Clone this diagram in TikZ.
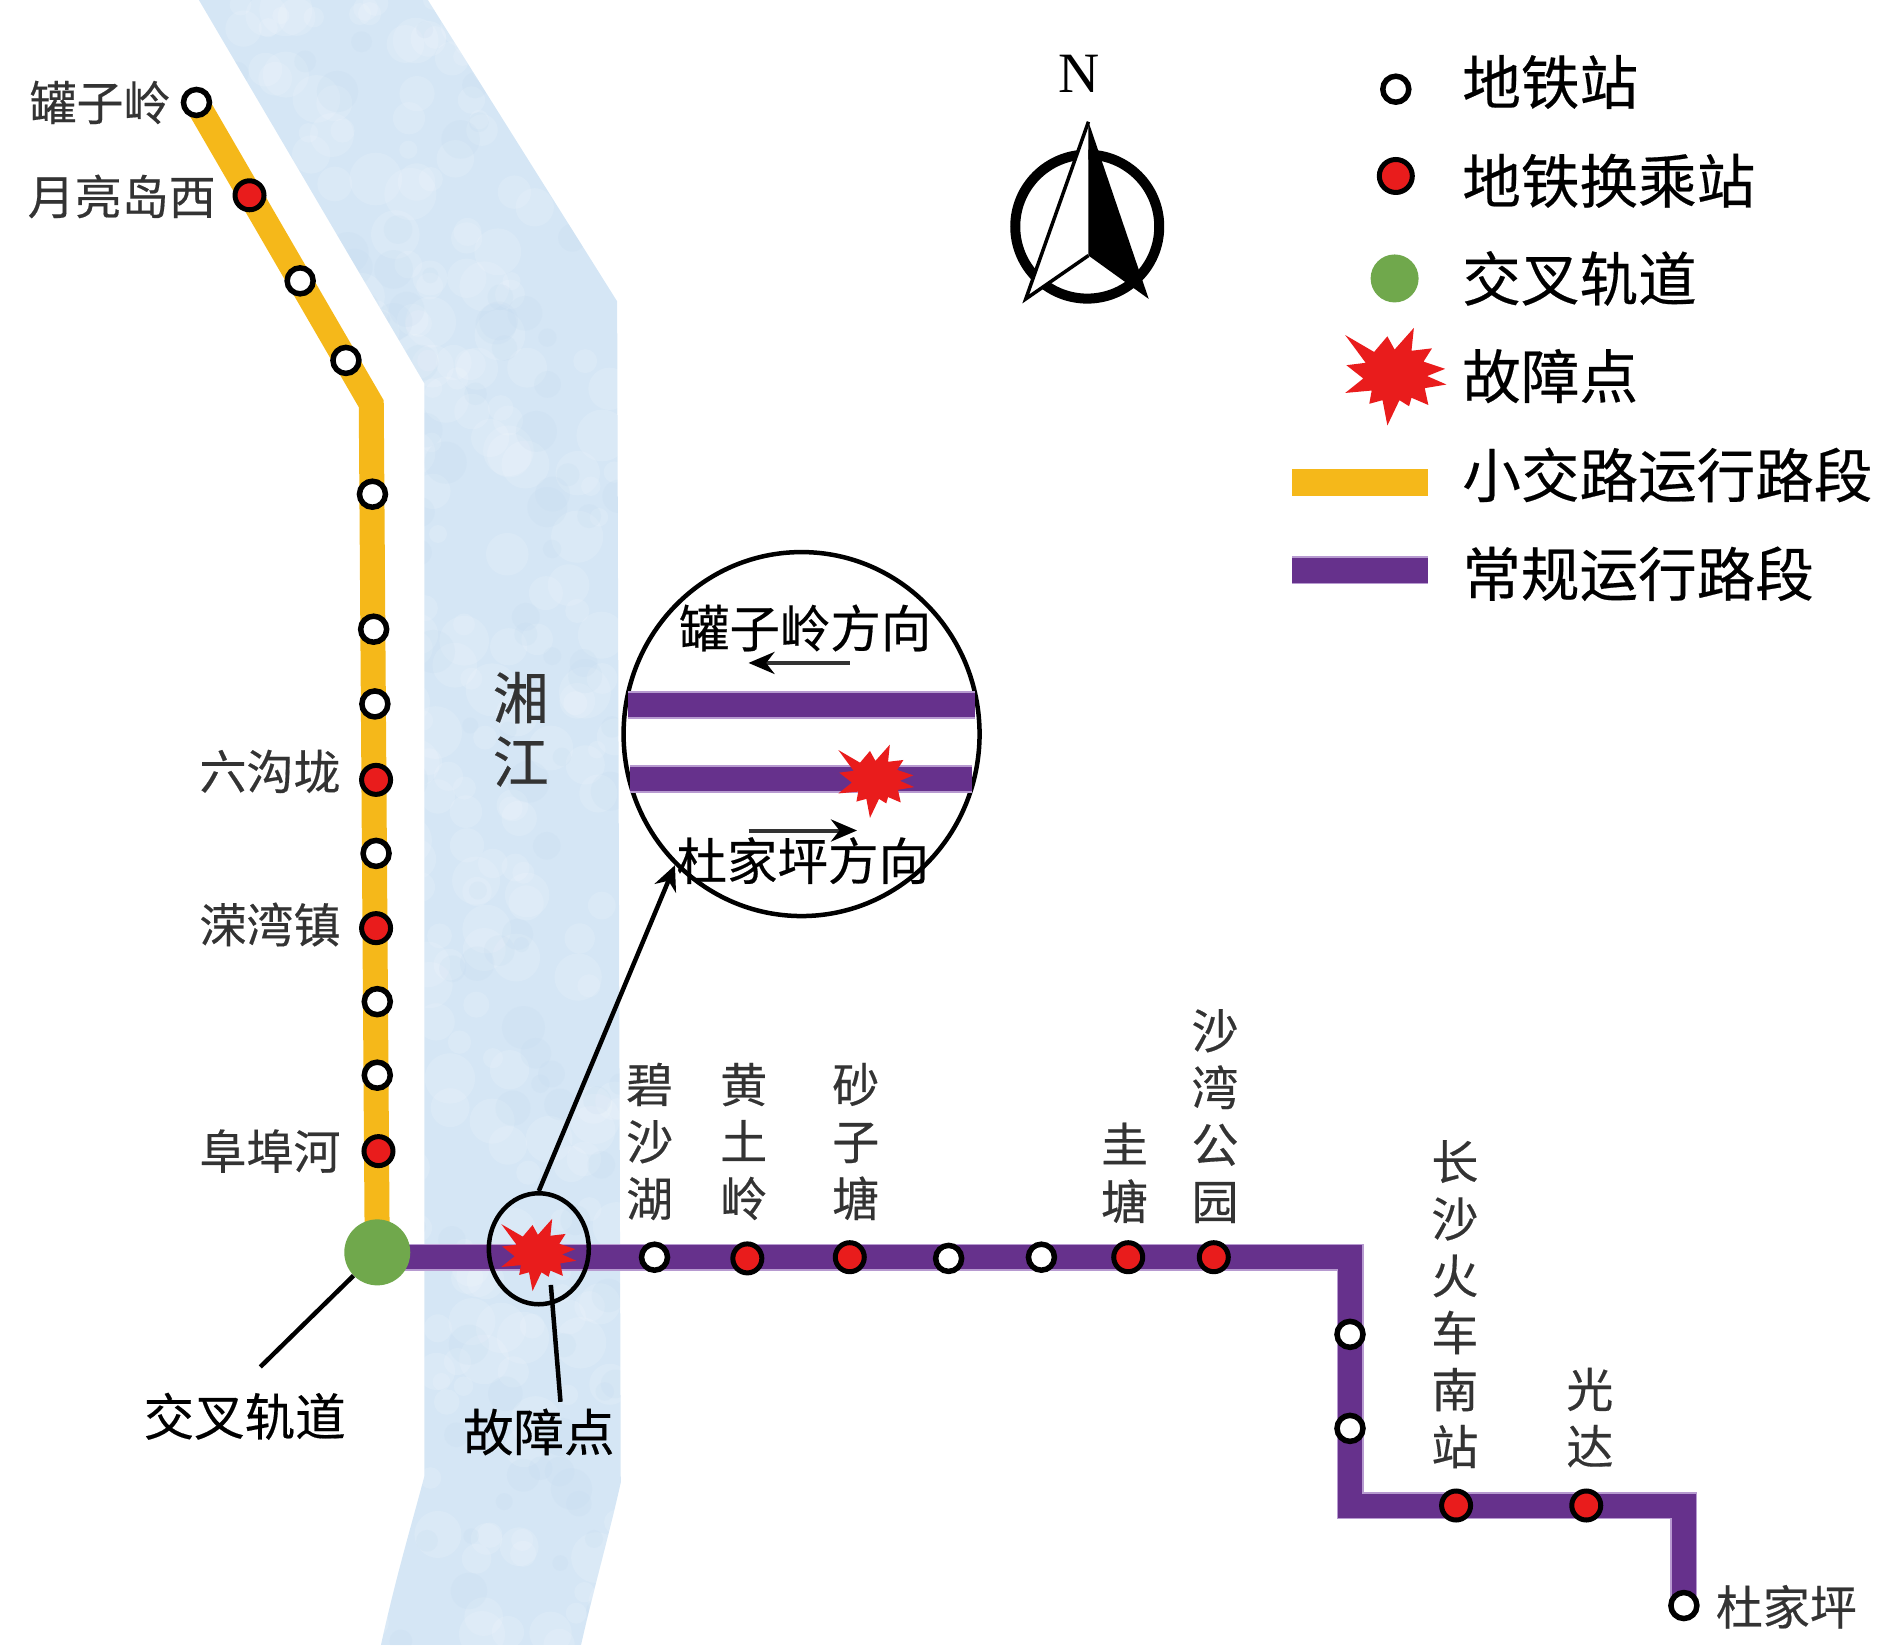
\documentclass[tikz,border=0pt]{standalone}
\usepackage{fontspec}
\setmainfont[FakeBold=0.35]{Noto Sans CJK SC}
\newfontfamily\latinserif{Liberation Serif}
\usetikzlibrary{arrows.meta,shapes.geometric}
\definecolor{riverblue}{HTML}{D5E6F5}
\definecolor{riverdark}{HTML}{B9D3EC}
\definecolor{lineorange}{HTML}{F5B81A}
\definecolor{linepurple}{HTML}{66318C}
\definecolor{edgepurple}{HTML}{B79AD0}
\definecolor{crossgreen}{HTML}{70A84C}
\definecolor{faultred}{HTML}{E91C1C}
\definecolor{labelgrey}{HTML}{333333}
\tikzset{
  x=1.2054pt,y=-1.2054pt,
  track/.style={line width=25pt,line join=miter},
  plainstop/.style={circle,draw=black,fill=white,line width=5.5pt,minimum size=26pt,inner sep=0pt},
  changestop/.style={circle,draw=black,fill=faultred,line width=5pt,minimum size=29pt,inner sep=0pt},
  maplabel/.style={text=labelgrey,align=center,inner sep=0pt,font=\fontsize{47}{57}\selectfont},
  legendlabel/.style={text=black,anchor=west,inner sep=0pt,font=\fontsize{58.6}{58.6}\selectfont},
  calllabel/.style={text=black,inner sep=0pt,font=\fontsize{50.5}{50.5}\selectfont},
  leader/.style={draw=black,line width=4.5pt},
  burstpic/.pic={
    \fill[faultred] (-7,-32)--(-1,-21)--(15,-39)--(13,-20)--(30,-22)--(23,-11)--(41,-5)--(26,1)--(42,8)--(24,11)--(27,25)--(13,19)--(11,26)--(3,21)--(-7,42)--(-11,21)--(-22,24)--(-20,13)--(-42,15)--(-27,3)--(-41,-8)--(-25,-10)--(-42,-33)--(-18,-19)--cycle;
  },
}
\begin{document}
\begin{tikzpicture}
\useasboundingbox (0,0) rectangle (1568,1365);
% river with a faint mottling
\begin{scope}
\clip (165,0) -- (352,318) -- (352,1225) .. controls (340,1270) and (328,1310) .. (316,1365)
  -- (482,1365) .. controls (492,1320) and (505,1275) .. (515,1230) -- (512,250) -- (355,0) -- cycle;
\fill[riverblue] (0,0) rectangle (1568,1365);
\pgfmathsetseed{11}
\foreach \n in {1,...,420}{
  \pgfmathsetmacro{\mx}{165+rnd*350}
  \pgfmathsetmacro{\my}{rnd*1365}
  \pgfmathsetmacro{\mr}{7+rnd*15}
  \fill[white,opacity=.13] (\mx,\my) circle[radius=\mr];
}
\foreach \n in {1,...,160}{
  \pgfmathsetmacro{\mx}{165+rnd*350}
  \pgfmathsetmacro{\my}{rnd*1365}
  \pgfmathsetmacro{\mr}{6+rnd*12}
  \fill[riverdark,opacity=.12] (\mx,\my) circle[radius=\mr];
}
\end{scope}
% tracks
\coordinate (orangetop) at (163,85);
\coordinate (orangebend) at (308,335);
\coordinate (crossing) at (313,1043);
\coordinate (purpleA) at (1120,1043);
\coordinate (purpleB) at (1120,1249);
\coordinate (purpleC) at (1397,1249);
\coordinate (purpleD) at (1397,1332);
\draw[track,lineorange] (orangetop) -- (orangebend) -- (crossing);
\draw[track,edgepurple,line width=27pt] (crossing) -- (purpleA) -- (purpleB) -- (purpleC) -- (purpleD);
\draw[track,linepurple,line width=24pt] (crossing) -- (purpleA) -- (purpleB) -- (purpleC) -- (purpleD);
% crossing
\node[circle,fill=crossgreen,minimum size=66pt,inner sep=0pt] (green) at (313,1039) {};
% white stations
\node[plainstop] (s1) at (163,85) {};
\node[plainstop] (s2) at (249,233) {};
\node[plainstop] (s3) at (287,299) {};
\node[plainstop] (s4) at (309,410) {};
\node[plainstop] (s5) at (310,522) {};
\node[plainstop] (s6) at (311,584) {};
\node[plainstop] (s7) at (312,708) {};
\node[plainstop] (s8) at (313,831) {};
\node[plainstop] (s9) at (313,892) {};
\node[plainstop] (s10) at (543,1043) {};
\node[plainstop] (s11) at (787,1044) {};
\node[plainstop] (s12) at (864,1043) {};
\node[plainstop] (s13) at (1120,1107) {};
\node[plainstop] (s14) at (1120,1185) {};
\node[plainstop] (s15) at (1397,1332) {};
% interchange stations
\node[changestop] (r1) at (207,162) {};
\node[changestop] (r2) at (312,647) {};
\node[changestop] (r3) at (312,770) {};
\node[changestop] (r4) at (314,955) {};
\node[changestop] (r5) at (620,1044) {};
\node[changestop] (r6) at (705,1043) {};
\node[changestop] (r7) at (936,1043) {};
\node[changestop] (r8) at (1007,1043) {};
\node[changestop] (r9) at (1208,1249) {};
\node[changestop] (r10) at (1316,1249) {};
% station labels
\node[maplabel] (l1) at (83,85) {罐子岭};
\node[maplabel] (l2) at (101,163) {月亮岛西};
\node[maplabel] (l3) at (224,640) {六沟垅};
\node[maplabel] (l4) at (224,767) {溁湾镇};
\node[maplabel] (l5) at (224,955) {阜埠河};
\node[maplabel] (l6) at (539,947) {碧\\沙\\湖};
\node[maplabel] (l7) at (617,947) {黄\\土\\岭};
\node[maplabel] (l8) at (710,947) {砂\\子\\塘};
\node[maplabel] (l9) at (933,973) {圭\\塘};
\node[maplabel] (l10) at (1008,926) {沙\\湾\\公\\园};
\node[maplabel] (l11) at (1207,1082) {长\\沙\\火\\车\\南\\站};
\node[maplabel] (l12) at (1319,1176) {光\\达};
\node[maplabel] (l13) at (1482,1333) {杜家坪};
\node[maplabel,font=\fontsize{56}{64}\selectfont] (river) at (432,605) {湘\\江};
% fault on the map
\path (447,1040) pic[scale=.74] {burstpic};
\node[ellipse,draw=black,line width=4.5pt,minimum width=100pt,minimum height=111pt,inner sep=0pt] (smallc) at (447,1036) {};
% enlarged circle
\node[ellipse,draw=black,fill=white,line width=4.5pt,minimum width=356pt,minimum height=364pt,inner sep=0pt] (bigc) at (665,609) {};
\coordinate (bandAl) at (521,585);
\coordinate (bandAr) at (809,585);
\coordinate (bandBl) at (523,646);
\coordinate (bandBr) at (806,646);
\draw[edgepurple,line width=28pt] (bandAl) -- (bandAr);
\draw[linepurple,line width=24pt] (bandAl) -- (bandAr);
\draw[edgepurple,line width=28pt] (bandBl) -- (bandBr);
\draw[linepurple,line width=24pt] (bandBl) -- (bandBr);
\path (727,647) pic[scale=.75] {burstpic};
\coordinate (upS) at (705,550);
\coordinate (upE) at (621,550);
\coordinate (downS) at (621,689);
\coordinate (downE) at (711,689);
\draw[draw=black!80,line width=4pt,-{Stealth[length=26pt,width=22pt,black]}] (upS) -- (upE);
\draw[draw=black!80,line width=4pt,-{Stealth[length=26pt,width=22pt,black]}] (downS) -- (downE);
\node[calllabel] (cup) at (668,521) {罐子岭方向};
\node[calllabel] (cdown) at (666,714) {杜家坪方向};
% leaders
\draw[leader,-{Stealth[length=25pt,width=23pt]}] (smallc.north) -- (bigc.226);
\coordinate (leadG) at (216,1134);
\draw[leader] (green) -- (leadG);
\coordinate (leadFa) at (457,1066);
\coordinate (leadFb) at (465,1163);
\draw[leader] (leadFa) -- (leadFb);
\node[calllabel] (ccross) at (203,1175) {交叉轨道};
\node[calllabel] (cfault) at (447,1188) {故障点};
% north arrow
\node[circle,draw=black,line width=10pt,minimum size=144pt,inner sep=0pt] (compass) at (902,188) {};
\coordinate (ntip) at (903,101);
\coordinate (nleft) at (851,248);
\coordinate (nright) at (953,248);
\coordinate (nmid) at (903,212);
\fill[white] (ntip) -- (nleft) -- (nmid) -- cycle;
\draw[black,line width=3.5pt,line join=miter] (nmid) -- (nleft) -- (ntip);
\fill[black] (ntip) -- (nright) -- (nmid) -- cycle;
\node[inner sep=0pt,font=\latinserif\fontsize{57}{57}\selectfont] (north) at (895,61) {N};
% legend
\node[plainstop,line width=5.5pt] (k1) at (1158,74) {};
\node[changestop,minimum size=33pt] (k2) at (1158,146) {};
\node[circle,fill=crossgreen,minimum size=48pt,inner sep=0pt] (k3) at (1157,231) {};
\path (1158,311) pic {burstpic};
\coordinate (k5a) at (1072,400);
\coordinate (k5b) at (1185,400);
\coordinate (k6a) at (1072,473);
\coordinate (k6b) at (1185,473);
\draw[lineorange,line width=27pt] (k5a) -- (k5b);
\draw[edgepurple,line width=28pt] (k6a) -- (k6b);
\draw[linepurple,line width=25pt] (k6a) -- (k6b);
\node[legendlabel] (t1) at (1213,68) {地铁站};
\node[legendlabel] (t2) at (1213,150) {地铁换乘站};
\node[legendlabel] (t3) at (1213,231) {交叉轨道};
\node[legendlabel] (t4) at (1213,312) {故障点};
\node[legendlabel] (t5) at (1213,394) {小交路运行路段};
\node[legendlabel] (t6) at (1213,476) {常规运行路段};
\end{tikzpicture}
\end{document}
